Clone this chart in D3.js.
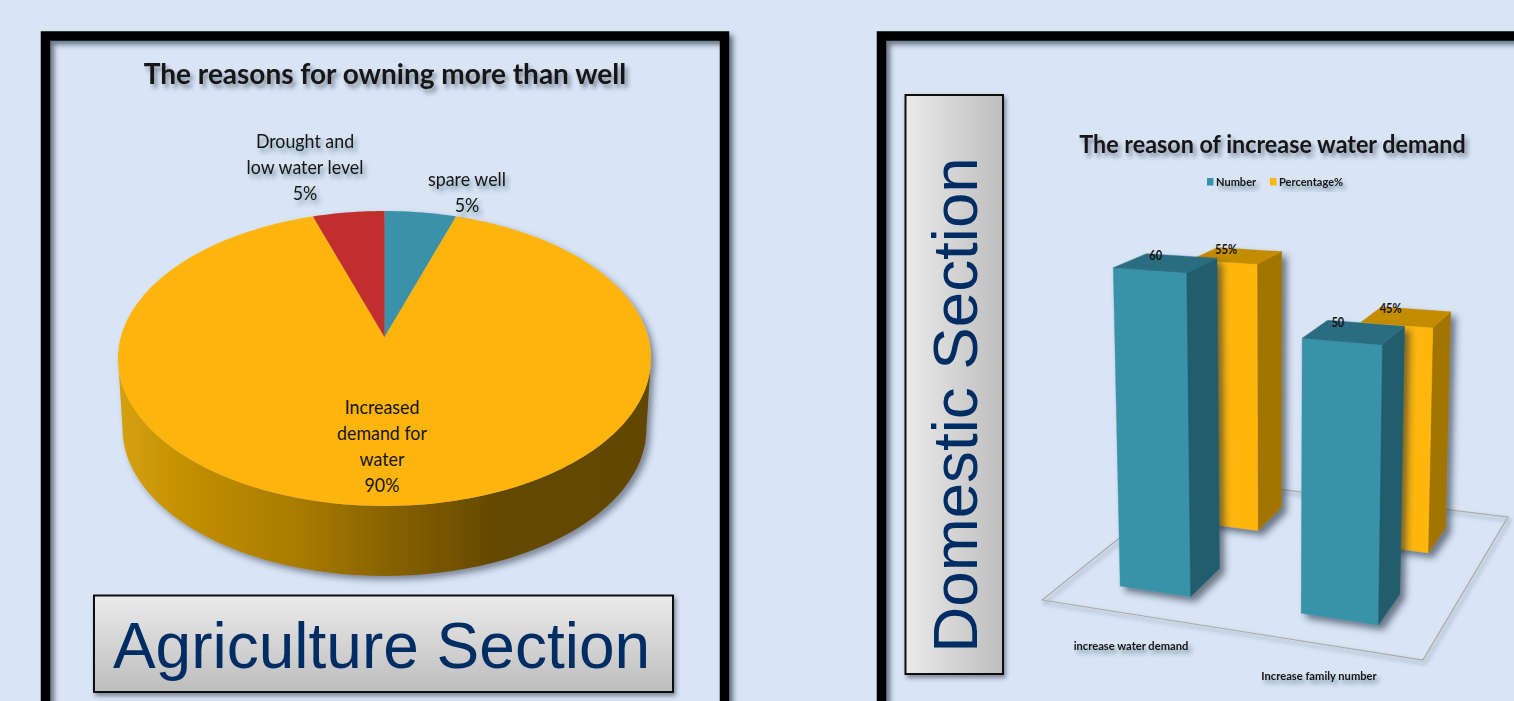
<!DOCTYPE html>
<html>
<head>
<meta charset="utf-8">
<script src="https://cdn.jsdelivr.net/npm/d3@7"></script>
<style>
html,body{margin:0;padding:0;background:#d9e5f5;overflow:hidden}
svg{display:block}
text{font-family:Lato,"Open Sans",sans-serif;fill:#141414}
.section{font-family:"Liberation Sans",Arial,sans-serif;fill:#002d64}
</style>
</head>
<body>
<svg id="chart" width="1514" height="701"></svg>
<script>
// Reasons for owning more than one well (agriculture)
const pieLabels = [["spare well", "5%"], ["Increased", "demand for", "water", "90%"], ["Drought and", "low water level", "5%"]];
const pieValues = [5, 90, 5];
const pieColors = ["#3a91a9", "#fdb409", "#c12f2f"];

// Reasons for increased water demand (domestic)
const barCategories = ["increase water demand", "Increase family number"];
const barSeries = ["Number", "Percentage%"];
const numberValues = [60, 50];
const percentageValues = [55, 45];
const percentageText = ["55%", "45%"];

const svg = d3.select("#chart");
const defs = svg.append("defs");

function shadow(id, dx, dy, std, opacity, color) {
  defs.append("filter").attr("id", id)
    .attr("x", "-20%").attr("y", "-20%").attr("width", "150%").attr("height", "150%")
    .append("feDropShadow")
    .attr("dx", dx).attr("dy", dy).attr("stdDeviation", std)
    .attr("flood-color", color || "#1d2a3a").attr("flood-opacity", opacity);
}
shadow("frameShadow", 4, 4, 2.6, 0.6);
shadow("textShadow", 3, 4, 2.2, 0.5);
shadow("smallTextShadow", 3, 4, 2, 0.45);
shadow("pieShadow", 4, 4, 3, 0.5);
shadow("barShadow", 5, 5, 3.5, 0.6);
shadow("boxShadow", 2, 3, 2, 0.5);

function gradient(id, x2, y2, stops) {
  const g = defs.append("linearGradient").attr("id", id)
    .attr("x1", 0).attr("y1", 0).attr("x2", x2).attr("y2", y2);
  stops.forEach(([o, c]) => g.append("stop").attr("offset", o).attr("stop-color", c));
}
gradient("boxVertical", 0, 1, [[0, "#ebebeb"], [1, "#bdbdbd"]]);
gradient("boxHorizontal", 1, 0, [[0, "#ebebeb"], [1, "#bdbdbd"]]);
gradient("pieSide", 1, 0, [[0, "#d6a108"], [0.15, "#c08d05"], [0.34, "#a87c05"], [0.51, "#876203"], [0.7, "#664a03"], [1, "#624702"]]);

// Narrows a text run horizontally to stand in for a condensed humanist face
function squeeze(selection, k) {
  selection.each(function () {
    this.setAttribute("textLength", this.getComputedTextLength() * k);
    this.setAttribute("lengthAdjust", "spacingAndGlyphs");
  });
  return selection;
}

// Panel frames run off the lower and right edges of the page
const frames = svg.append("g").attr("fill", "none").attr("stroke", "#000").attr("stroke-width", 9.5)
  .attr("filter", "url(#frameShadow)");
frames.append("rect").attr("x", 45.5).attr("y", 36).attr("width", 679).attr("height", 900);
frames.append("rect").attr("x", 881.5).attr("y", 36).attr("width", 900).attr("height", 900);

/* ---------- 3D pie ---------- */
const pieCx = 384.5, pieCy = 358.5, pieRx = 266.5, pieRy = 147.5, pieDepth = 70;
const hubOffset = 0.146; // the hub sits nearer the far rim because of the perspective

// Perspective map of a unit disc onto the tilted pie face
function discPoint(angle, radius) {
  const u = radius * Math.sin(angle), v = radius * Math.cos(angle);
  const d = 1 + hubOffset * v;
  const pv = (v + hubOffset) / d;
  const pu = u * Math.sqrt(1 - hubOffset * hubOffset) / d;
  return [pieCx + pieRx * pu, pieCy - pieRy * pv];
}
const pieArcs = d3.pie().sort(null)(pieValues);
const polyline = d3.line();

const pieGroup = svg.append("g").attr("filter", "url(#pieShadow)");

// Side wall: upper rim's lower half joined to the lower rim
const sideAngles = d3.range(0, 181, 3).map(d => d * Math.PI / 180);
const sideTop = sideAngles.map(a => [pieCx - pieRx * Math.cos(a), pieCy + pieRy * Math.sin(a)]);
const sideBottom = sideAngles.map(a => [pieCx - (pieRx - 4.5) * Math.cos(a), pieCy + pieDepth + pieRy * Math.sin(a)]).reverse();
pieGroup.append("path")
  .attr("d", polyline(sideTop.concat(sideBottom)) + "Z")
  .attr("fill", "url(#pieSide)");

pieGroup.selectAll("path.slice").data(pieArcs).join("path")
  .attr("class", "slice")
  .attr("fill", (d, i) => pieColors[i])
  .attr("d", d => {
    const n = Math.max(8, Math.ceil((d.endAngle - d.startAngle) * 40));
    const rim = d3.range(n + 1).map(i => discPoint(d.startAngle + (d.endAngle - d.startAngle) * i / n, 1));
    return polyline([discPoint(0, 0), ...rim]) + "Z";
  });

svg.append("text").attr("x", 385).attr("y", 84).attr("text-anchor", "middle")
  .attr("font-size", 28).attr("font-weight", 700).attr("fill", "#0b0b0b")
  .attr("filter", "url(#textShadow)")
  .text("The reasons for owning more than well");

// Slice labels: [centre x, first baseline, line spacing]
const pieLabelPlace = [[467, 186, 26], [382, 414, 26], [305, 148, 26]];
pieLabels.forEach((lines, i) => {
  const [x, y, step] = pieLabelPlace[i];
  const t = svg.append("text").attr("text-anchor", "middle").attr("font-size", 20)
    .attr("filter", i === 1 ? null : "url(#smallTextShadow)");
  lines.forEach((line, j) => {
    squeeze(t.append("tspan").attr("x", x).attr("y", y + j * step).text(line), 0.89);
  });
});

svg.append("rect").attr("x", 94).attr("y", 595.5).attr("width", 579).attr("height", 96.5)
  .attr("fill", "url(#boxVertical)").attr("stroke", "#111").attr("stroke-width", 2)
  .attr("filter", "url(#boxShadow)");
svg.append("text").attr("class", "section").attr("x", 381.5).attr("y", 668)
  .attr("text-anchor", "middle").attr("font-size", 64).text("Agriculture Section");

svg.append("rect").attr("x", 905.5).attr("y", 95).attr("width", 97.5).attr("height", 579)
  .attr("fill", "url(#boxHorizontal)").attr("stroke", "#111").attr("stroke-width", 2)
  .attr("filter", "url(#boxShadow)");
svg.append("text").attr("class", "section")
  .attr("transform", "translate(977,405) rotate(-90)")
  .attr("text-anchor", "middle").attr("font-size", 63.7).text("Domestic Section");

/* ---------- 3D bars ---------- */
// Projective camera: floor unit square (u across, v into the page) plus height t
const cam = {
  a: 250.6, b: 430.4, c: 1042,
  d: -0.46, e: -8.8, f: 600,
  g: -0.0916, h: 0.2342,
  vanishX: 1276, vanishY: 7750
};
function project(u, v, t) {
  const w = 1 + cam.g * u + cam.h * v;
  const fx = cam.a * u + cam.b * v + cam.c;
  const fy = cam.d * u + cam.e * v + cam.f;
  return [(fx + t * cam.vanishX) / (w + t), (fy + t * cam.vanishY) / (w + t)];
}
const uScale = d3.scaleBand().domain(barCategories).range([0, 1]).paddingInner(0.6).paddingOuter(0.3);
const vScale = d3.scaleBand().domain(barSeries).range([0, 1]).paddingInner(0.6).paddingOuter(0.3);
const heightScale = d3.scaleLinear().domain([0, 60]).range([0, -0.04347]);

const floor = [[0, 0], [1, 0], [1, 1], [0, 1]].map(([u, v]) => project(u, v, 0));
svg.append("path").attr("d", polyline(floor) + "Z")
  .attr("fill", "none").attr("stroke", "#a9a9a4").attr("stroke-width", 1.2)
  .attr("filter", "url(#boxShadow)");

const seriesColors = {
  "Number": { front: "#3892a9", side: "#235d6d", top: "#2b6d80" },
  "Percentage%": { front: "#ffb60c", side: "#a27505", top: "#c48d05" }
};
const rows = [
  { series: "Percentage%", values: percentageValues, text: percentageText },
  { series: "Number", values: numberValues, text: numberValues.map(String) }
];

rows.forEach(row => {
  const colors = seriesColors[row.series];
  const v0 = vScale(row.series), v1 = v0 + vScale.bandwidth();
  const g = svg.append("g").attr("filter", "url(#barShadow)");
  barCategories.forEach((cat, i) => {
    const u0 = uScale(cat), u1 = u0 + uScale.bandwidth();
    const t = heightScale(row.values[i]);
    const face = (pts, fill) => g.append("path")
      .attr("d", polyline(pts.map(p => project(...p))) + "Z")
      .attr("fill", fill).attr("stroke", fill).attr("stroke-width", 0.4);
    face([[u0, v0, 0], [u1, v0, 0], [u1, v0, t], [u0, v0, t]], colors.front);
    face([[u1, v0, 0], [u1, v1, 0], [u1, v1, t], [u1, v0, t]], colors.side);
    face([[u0, v0, t], [u1, v0, t], [u1, v1, t], [u0, v1, t]], colors.top);
  });
});

// Value labels sit at the rear edge of each bar's top face
rows.forEach(row => {
  const v1 = vScale(row.series) + vScale.bandwidth();
  barCategories.forEach((cat, i) => {
    const [x, y] = project(uScale(cat) + 0.027, v1, heightScale(row.values[i]));
    squeeze(svg.append("text").attr("x", x).attr("y", y + 6).attr("text-anchor", "middle")
      .attr("font-size", 13).attr("font-weight", 700).attr("fill", "#0b0b0b")
      .text(row.text[i]), 0.85);
  });
});

// Category labels below the floor's front edge
const catLabelPos = [[1131, 650], [1319, 680]];
barCategories.forEach((cat, i) => {
  squeeze(svg.append("text").attr("x", catLabelPos[i][0]).attr("y", catLabelPos[i][1])
    .attr("text-anchor", "middle").attr("font-size", 12).attr("font-weight", 700)
    .attr("fill", "#141414").attr("filter", "url(#smallTextShadow)").text(cat), 0.93);
});

squeeze(svg.append("text").attr("x", 1272.5).attr("y", 153).attr("text-anchor", "middle")
  .attr("font-size", 24).attr("font-weight", 700).attr("fill", "#0b0b0b")
  .attr("filter", "url(#textShadow)")
  .text("The reason of increase water demand"), 0.972);

// Legend
const legendX = d3.scaleOrdinal().domain(barSeries).range([1207, 1270]);
const legend = svg.append("g").selectAll("g").data(barSeries).join("g")
  .attr("transform", d => `translate(${legendX(d)},178)`);
legend.append("rect").attr("width", 6.5).attr("height", 7.5)
  .attr("fill", d => seriesColors[d].front);
squeeze(legend.append("text").attr("x", 9).attr("y", 8).attr("font-size", 11.5).attr("font-weight", 700)
  .attr("fill", "#1a1a1a").attr("filter", "url(#smallTextShadow)").text(d => d), 0.96);
</script>
</body>
</html>
